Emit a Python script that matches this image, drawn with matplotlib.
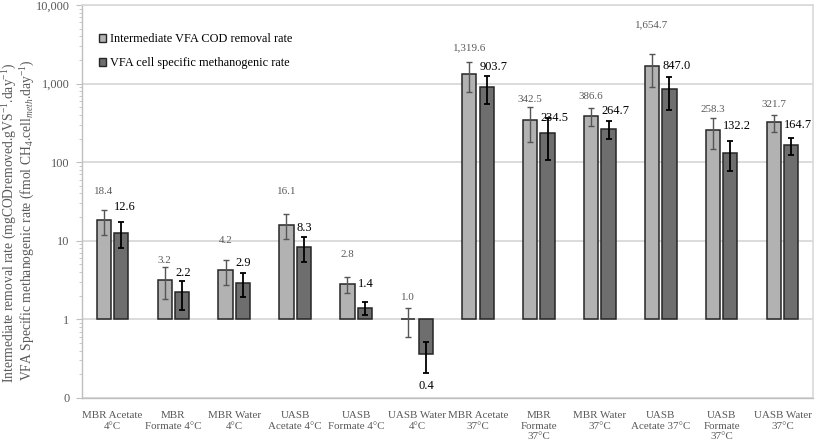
import matplotlib
matplotlib.use("Agg")
import matplotlib.pyplot as plt
import numpy as np
from matplotlib.ticker import FixedLocator, FixedFormatter, LogLocator, NullFormatter
from matplotlib.patches import Patch

# ---------------- data ----------------
categories = ["MBR Acetate\n4°C", "MBR\nFormate 4°C", "MBR Water\n4°C",
              "UASB\nAcetate 4°C", "UASB\nFormate 4°C", "UASB Water\n4°C",
              "MBR Acetate\n37°C", "MBR\nFormate\n37°C", "MBR Water\n37°C",
              "UASB\nAcetate 37°C", "UASB\nFormate\n37°C", "UASB Water\n37°C"]
cod_removal = [18.4, 3.2, 4.2, 16.1, 2.8, 1.0, 1319.6, 342.5, 386.6, 1654.7, 258.3, 321.7]
cod_removal_err = [6.5, 1.4, 1.45, 5.7, 0.62, 0.4, 540, 163, 100, 760, 111, 77]
methanogenic = [12.6, 2.2, 2.9, 8.3, 1.4, 0.36, 903.7, 234.5, 264.7, 847.0, 132.2, 164.7]
methanogenic_err = [4.6, 0.9, 1.0, 2.9, 0.25, 0.15, 360, 127, 65, 380, 55, 41]
series_names = ["Intermediate VFA COD removal rate", "VFA cell specific methanogenic rate"]
ytick_values = [0.1, 1, 10, 100, 1000, 10000]
ytick_labels = ["0", "1", "10", "100", "1,000", "10,000"]

# layout: label offsets (pixels) from error-bar end
light_label_dy = [17.7, 7.3, 20, 22.7, 23.4, 10, 14.7, 7.3, 11.7, 29, 8.3, 10.3]
dark_label_dy = [15, 7.4, 9.7, 9.3, 18.7, -13.6, 8.3, 0.6, 10.3, 10.6, 15, 12.3]

FONT = "Liberation Serif"
plt.rcParams['font.family'] = [FONT, 'DejaVu Serif', 'DejaVu Sans']
plt.rcParams['mathtext.fontset'] = 'custom'
plt.rcParams['mathtext.rm'] = FONT
plt.rcParams['mathtext.it'] = FONT + ':italic'

W, H, DPI = 817, 443, 100
fig = plt.figure(figsize=(W / DPI, H / DPI), dpi=DPI)
ax = fig.add_axes([82 / W, 1 - 398 / H, (813 - 82) / W, (398 - 5) / H])

light_col = "#b2b2b2"
dark_col = "#6e6e6e"
edge_col = "#262626"
grey_txt = "#595959"
grid_col = "#d9d9d9"

n = len(categories)
x = np.arange(n)
bw = 0.233
off = 0.143
base = 1.0

h1 = np.array(cod_removal) - base
h2 = np.array(methanogenic) - base
ax.bar(x - off, h1, bw, bottom=base, color=light_col, edgecolor=edge_col, linewidth=1.1, zorder=3)
ax.bar(x + off, h2, bw, bottom=base, color=dark_col, edgecolor=edge_col, linewidth=1.1, zorder=3)
ax.errorbar(x - off, cod_removal, yerr=cod_removal_err, fmt='none', ecolor="#555555",
            elinewidth=1.0, capsize=2.5, capthick=1.0, zorder=4)
ax.errorbar(x + off, methanogenic, yerr=methanogenic_err, fmt='none', ecolor="#000000",
            elinewidth=1.3, capsize=2.5, capthick=1.3, zorder=4)

ax.set_yscale('log')
ax.set_ylim(0.1, 10000)
ax.set_xlim(-0.5, n - 0.5)
ax.yaxis.set_major_locator(FixedLocator(ytick_values))
ax.yaxis.set_major_formatter(FixedFormatter(ytick_labels))
ax.yaxis.set_minor_locator(LogLocator(base=10, subs=np.arange(2, 10)))
ax.yaxis.set_minor_formatter(NullFormatter())
ax.tick_params(axis='y', which='major', length=4, width=0.8, color="#bfbfbf",
               labelsize=8.8, labelcolor=grey_txt, pad=5)
ax.tick_params(axis='y', which='minor', length=2.5, width=0.6, color="#bfbfbf")
ax.set_xticks(x)
ax.set_xticklabels(categories)
ax.tick_params(axis='x', length=0, labelsize=7.9, labelcolor=grey_txt, pad=9.5)
for lab in ax.get_xticklabels():
    lab.set_linespacing(1.2)

ax.grid(axis='y', which='major', color=grid_col, linewidth=1.3, zorder=0)
ax.set_axisbelow(True)
for s in ['top', 'right']:
    ax.spines[s].set_color(grid_col)
    ax.spines[s].set_linewidth(1.2)
for s in ['left', 'bottom']:
    ax.spines[s].set_color("#bfbfbf")
    ax.spines[s].set_linewidth(1.0)

px2pt = 72 / DPI
# value labels
for i in range(n):
    v, e = cod_removal[i], cod_removal_err[i]
    ax.annotate(f"{v:,.1f}", xy=(x[i] - off, v + e), xytext=(0, light_label_dy[i] * px2pt),
                textcoords='offset points', ha='center', va='center',
                fontsize=7.9, color=grey_txt, zorder=5)
    v, e = methanogenic[i], methanogenic_err[i]
    anchor = v + e if v >= base else v - e
    ax.annotate(f"{v:,.1f}", xy=(x[i] + off - bw / 2, anchor), xytext=(0, dark_label_dy[i] * px2pt),
                textcoords='offset points', ha='left', va='center',
                fontsize=8.9, color="black", zorder=5)

# axis label
fig.text(10 / W, 1 - 223 / H, "Intermediate removal rate (mgCODremoved.gVS$^{-1}$.day$^{-1}$)",
         rotation=90, ha='center', va='center', fontsize=9.8, color=grey_txt)
fig.text(28 / W, 1 - 220 / H, "VFA Specific methanogenic rate (fmol CH$_4$.cell$_{meth}$.day$^{-1}$)",
         rotation=90, ha='center', va='center', fontsize=9.8, color=grey_txt)

handles = [Patch(facecolor=light_col, edgecolor=edge_col, linewidth=1.0),
           Patch(facecolor=dark_col, edgecolor=edge_col, linewidth=1.0)]
ax.legend(handles, series_names, loc='upper left', bbox_to_anchor=(99 / W, 1 - 33 / H),
          bbox_transform=fig.transFigure, frameon=False, fontsize=8.8,
          handlelength=0.6, handleheight=0.6, handletextpad=0.3, labelspacing=1.0,
          borderaxespad=0, borderpad=0)

fig.savefig("out.png", dpi=DPI)
